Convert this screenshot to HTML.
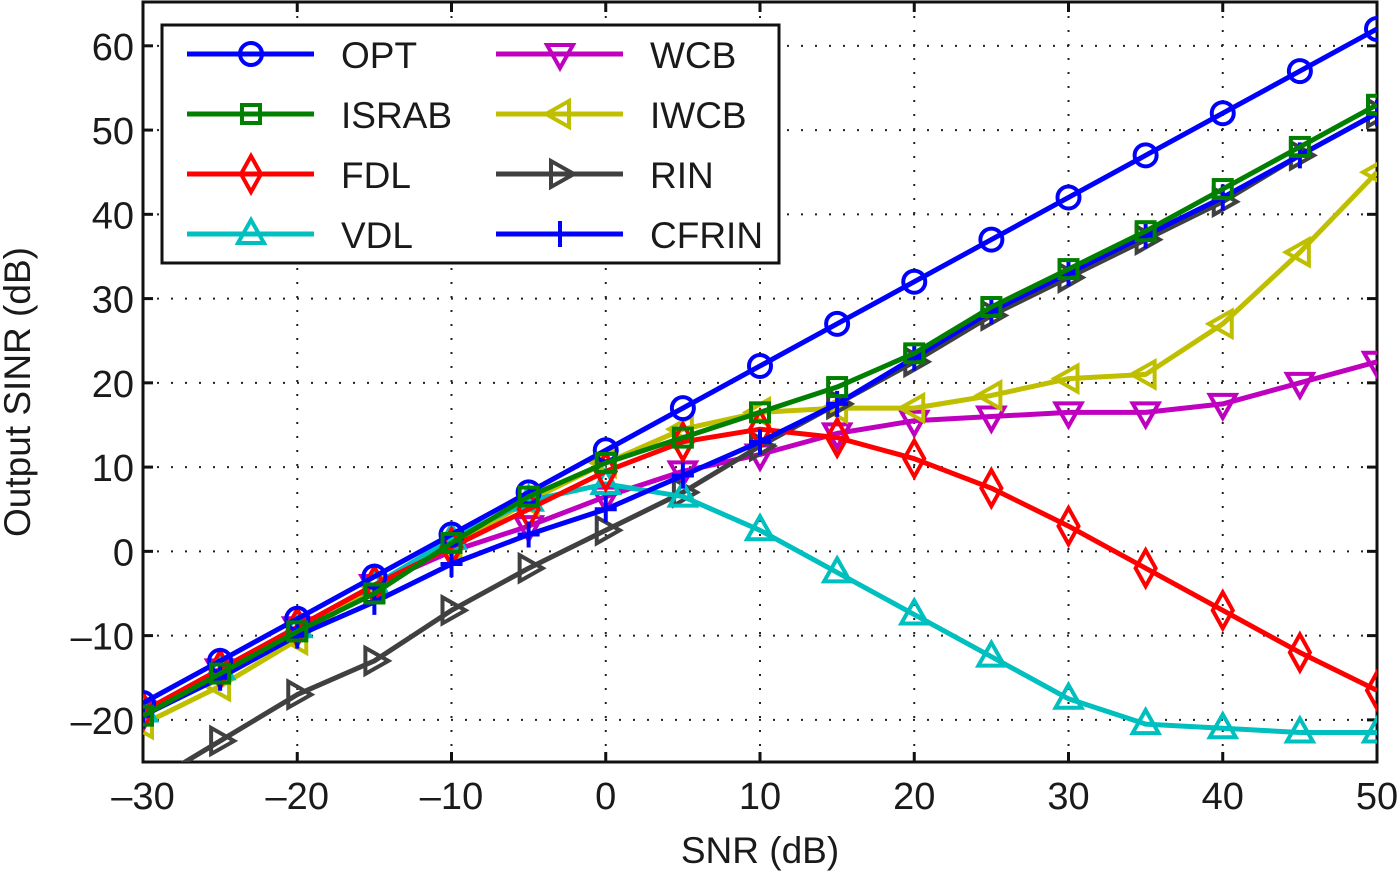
<!DOCTYPE html>
<html><head><meta charset="utf-8"><style>
body{margin:0;background:#fff;}
svg text{font-family:"Liberation Sans",Arial,sans-serif;fill:#1a1a1a;}
</style></head><body>
<svg id="chart" width="1400" height="873" viewBox="0 0 1400 873">
<rect x="0" y="0" width="1400" height="873" fill="#fff"/>
<g id="grid"></g>
<g id="axes"></g>
<g id="series"></g>
<g id="legend"></g>
<text x="760" y="863" font-size="37" text-anchor="middle">SNR (dB)</text>
<text transform="translate(30,392) rotate(-90)" font-size="37" text-anchor="middle">Output SINR (dB)</text>
</svg>
<script>
const snr = [-30,-25,-20,-15,-10,-5,0,5,10,15,20,25,30,35,40,45,50];
const optVals = [-18,-13,-8,-3,2,7,12,17,22,27,32,37,42,47,52,57,62];
const israbVals = [-19.5,-14.5,-9.5,-5,1,6.5,10.5,13.5,16.5,19.5,23.5,29,33.5,38,43,48,53];
const fdlVals = [-19,-14,-9,-4,0.5,5,9.5,13,14.5,13.5,11,7.5,3,-2,-7,-12,-16.5];
const vdlVals = [-19,-14,-9,-4,1.5,6,8,6.5,2.5,-2.5,-7.5,-12.5,-17.5,-20.5,-21,-21.5,-21.5];
const wcbVals = [-19,-14,-9,-4,0,3,6.5,9.5,11.5,14,15.5,16,16.5,16.5,17.5,20,22.5];
const iwcbVals = [-20.5,-16,-10.5,-4,0.5,6,10.5,14.5,16.5,17,17,18.5,20.5,21,27,35.5,45];
const rinVals = [-28,-22.5,-17,-13,-7,-2,2.5,7,12.5,17.5,22.5,28,32.5,37,41.5,47,52];
const cfrinVals = [-19.5,-15,-10,-6,-1.5,2,5,9,13,17.5,23,28.5,33,37.5,42,47,52];
const xTicks = [-30,-20,-10,0,10,20,30,40,50];
const yTicks = [-20,-10,0,10,20,30,40,50,60];

const L=143,R=1377,T=2,B=762,XMIN=-30,XMAX=50,YMIN=-25,YMAX=65.2;
const sx=v=>L+(v-XMIN)/(XMAX-XMIN)*(R-L);
const sy=v=>B-(v-YMIN)/(YMAX-YMIN)*(B-T);
const NS="http://www.w3.org/2000/svg";
function mk(tag,attrs,parent){const e=document.createElementNS(NS,tag);for(const k in attrs)e.setAttribute(k,attrs[k]);parent.appendChild(e);return e;}
const grid=document.getElementById('grid'),axes=document.getElementById('axes'),ser=document.getElementById('series'),leg=document.getElementById('legend');
const svg=document.getElementById('chart');
const defs=mk('defs',{},svg);
const cp=mk('clipPath',{id:'clip'},defs);mk('rect',{x:L,y:T,width:R-L,height:B-T},cp);

xTicks.forEach(t=>{
  const x=sx(t);
  if(t>XMIN&&t<XMAX){const g=mk('line',{x1:x,y1:T,x2:x,y2:B,stroke:'#222','stroke-width':2,'stroke-dasharray':'2 12'},grid);
  }
  mk('line',{x1:x,y1:B,x2:x,y2:B-10,stroke:'#111','stroke-width':3},axes);
  mk('line',{x1:x,y1:T,x2:x,y2:T+10,stroke:'#111','stroke-width':3},axes);
  const tx=mk('text',{x:x,y:B+47,'font-size':38,'text-anchor':'middle'},axes);
  tx.textContent=t<0?'\u2013'+(-t):String(t);
  
});
yTicks.forEach(t=>{
  const y=sy(t);
  const g=mk('line',{x1:L,y1:y,x2:R,y2:y,stroke:'#222','stroke-width':2,'stroke-dasharray':'2 12'},grid);
  
  mk('line',{x1:L,y1:y,x2:L+10,y2:y,stroke:'#111','stroke-width':3},axes);
  mk('line',{x1:R,y1:y,x2:R-10,y2:y,stroke:'#111','stroke-width':3},axes);
  const tx=mk('text',{x:L-9,y:y+14,'font-size':38,'text-anchor':'end'},axes);
  tx.textContent=t<0?'\u2013'+(-t):String(t);
  
});
const frame=mk('rect',{x:L,y:T,width:R-L,height:B-T,fill:'none',stroke:'#111','stroke-width':3},axes);


function marker(type,x,y,color,parent){
  const s=11,a={fill:'none',stroke:color,'stroke-width':4};
  let e;
  if(type==='o')e=mk('circle',Object.assign({cx:x,cy:y,r:s},a),parent);
  else if(type==='s')e=mk('rect',Object.assign({x:x-9,y:y-9,width:18,height:18},a),parent);
  else if(type==='d')e=mk('polygon',Object.assign({points:`${x},${y-18} ${x+10},${y} ${x},${y+18} ${x-10},${y}`},a),parent);
  else if(type==='^')e=mk('polygon',Object.assign({points:`${x},${y-14} ${x+13},${y+9} ${x-13},${y+9}`},a),parent);
  else if(type==='v')e=mk('polygon',Object.assign({points:`${x},${y+14} ${x+13},${y-9} ${x-13},${y-9}`},a),parent);
  else if(type==='<')e=mk('polygon',Object.assign({points:`${x-14},${y} ${x+9},${y-13} ${x+9},${y+13}`},a),parent);
  else if(type==='>')e=mk('polygon',Object.assign({points:`${x+14},${y} ${x-9},${y-13} ${x-9},${y+13}`},a),parent);
  else if(type==='+')e=mk('path',Object.assign({d:`M${x-11},${y}H${x+11}M${x},${y-13}V${y+13}`},a),parent);
  return e;
}
const seriesList=[
 ['OPT',optVals,'#0000ff','o'],['ISRAB',israbVals,'#007f00','s'],['FDL',fdlVals,'#ff0000','d'],['VDL',vdlVals,'#00bfbf','^'],
 ['WCB',wcbVals,'#bf00bf','v'],['IWCB',iwcbVals,'#bfbf00','<'],['RIN',rinVals,'#404040','>'],['CFRIN',cfrinVals,'#0000ff','+']];
const drawOrder=[4,5,6,3,2,7,0,1];
drawOrder.forEach(i=>{
  const [name,vals,color,m]=seriesList[i];
  const g=mk('g',{'clip-path':'url(#clip)'},ser);
  
  
  const pts=snr.map((x,j)=>sx(x)+','+sy(vals[j])).join(' ');
  mk('polyline',{points:pts,fill:'none',stroke:color,'stroke-width':5,'stroke-linejoin':'round'},g);
  snr.forEach((x,j)=>{const e=marker(m,sx(x),sy(vals[j]),color,g);
    
    });
});
const box=mk('rect',{x:162,y:25,width:617,height:238,fill:'#fff',stroke:'#111','stroke-width':3},leg);

seriesList.forEach(([name,vals,color,m],i)=>{
  const col=Math.floor(i/4),row=i%4;
  const x0=col?496:187,y=54+row*60;
  const g=mk('g',{},leg);
  
  
  mk('line',{x1:x0,y1:y,x2:x0+127,y2:y,stroke:color,'stroke-width':5},g);
  marker(m,x0+64,y,color,g);
  const t=mk('text',{x:x0+154,y:y+14,'font-size':37},g);t.textContent=name;
});
</script>
</body></html>
